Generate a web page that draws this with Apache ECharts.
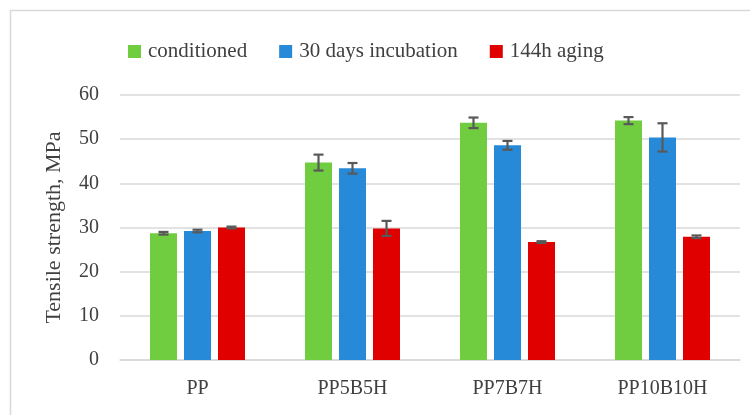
<!DOCTYPE html>
<html>
<head>
<meta charset="utf-8">
<script src="https://cdn.jsdelivr.net/npm/echarts@6/dist/echarts.min.js"></script>
<style>
html,body{margin:0;padding:0;background:#fff;}
#main{width:750px;height:415px;}
</style>
</head>
<body>
<div id="main"></div>
<script>
const categories = ['PP', 'PP5B5H', 'PP7B7H', 'PP10B10H'];
const seriesNames = ['conditioned', '30 days incubation', '144h aging'];
const conditioned = [28.7, 44.7, 53.7, 54.2];
const incubation = [29.2, 43.4, 48.6, 50.4];
const aging = [30.0, 29.8, 26.7, 27.9];
const conditionedErr = [0.3, 1.8, 1.2, 0.8];
const incubationErr = [0.3, 1.2, 1.0, 3.2];
const agingErr = [0.2, 1.7, 0.2, 0.3];
const yTicks = [0, 10, 20, 30, 40, 50, 60];

const colors = ['#6FCD3F', '#268AD8', '#E00000'];
const values = [conditioned, incubation, aging];
const errs = [conditionedErr, incubationErr, agingErr];
const FONT = 'Liberation Serif';
const BAR_W = 27, STEP = 34;

const chart = echarts.init(document.getElementById('main'));

const barSeries = seriesNames.map((name, i) => ({
  name: name,
  type: 'bar',
  data: values[i],
  barWidth: BAR_W,
  barGap: (7 / 27 * 100).toFixed(1) + '%',
  itemStyle: { color: colors[i] },
  z: 2
}));

const errSeries = seriesNames.map((name, i) => ({
  type: 'custom',
  name: name,
  data: values[i].map((v, j) => [j, v - errs[i][j], v + errs[i][j]]),
  z: 5,
  silent: true,
  renderItem: function (params, api) {
    const x = api.value(0);
    const lo = api.coord([x, api.value(1)]);
    const hi = api.coord([x, api.value(2)]);
    const cx = lo[0] + (i - 1) * STEP;
    const cap = 5;
    const style = { stroke: '#595959', lineWidth: 2.2 };
    return {
      type: 'group',
      children: [
        { type: 'line', shape: { x1: cx, y1: hi[1], x2: cx, y2: lo[1] }, style: style },
        { type: 'line', shape: { x1: cx - cap, y1: hi[1], x2: cx + cap, y2: hi[1] }, style: style },
        { type: 'line', shape: { x1: cx - cap, y1: lo[1], x2: cx + cap, y2: lo[1] }, style: style }
      ]
    };
  }
}));

chart.setOption({
  animation: false,
  backgroundColor: '#ffffff',
  textStyle: { fontFamily: FONT },
  graphic: [{
    type: 'rect',
    shape: { x: 10.5, y: 10.5, width: 800, height: 500 },
    style: { fill: 'none', stroke: '#d9d9d9', lineWidth: 1.5 },
    silent: true, z: -10
  }],
  legend: {
    data: seriesNames.map((n, i) => ({ name: n, itemStyle: { color: colors[i] } })),
    left: 123,
    top: 36,
    itemWidth: 13,
    itemHeight: 13,
    itemGap: 32,
    icon: 'rect',
    textStyle: { fontFamily: FONT, fontSize: 21, color: '#404040', padding: [0, 0, 0, 2] }
  },
  grid: { left: 120, right: 10, top: 95, bottom: 55 },
  xAxis: {
    type: 'category',
    data: categories,
    axisLine: { show: true, lineStyle: { color: '#d9d9d9', width: 1.5 } },
    axisTick: { show: false },
    axisLabel: { fontFamily: FONT, fontSize: 20, color: '#404040', margin: 19 }
  },
  yAxis: {
    type: 'value',
    min: yTicks[0],
    max: yTicks[yTicks.length - 1],
    interval: 10,
    name: 'Tensile strength, MPa',
    nameLocation: 'middle',
    nameGap: 55,
    nameTextStyle: { fontFamily: FONT, fontSize: 22, color: '#404040' },
    axisLine: { show: false },
    axisTick: { show: false },
    splitLine: { lineStyle: { color: '#d9d9d9', width: 1.5 } },
    axisLabel: { fontFamily: FONT, fontSize: 20, color: '#404040', margin: 21 }
  },
  series: barSeries.concat(errSeries)
});
</script>
</body>
</html>
